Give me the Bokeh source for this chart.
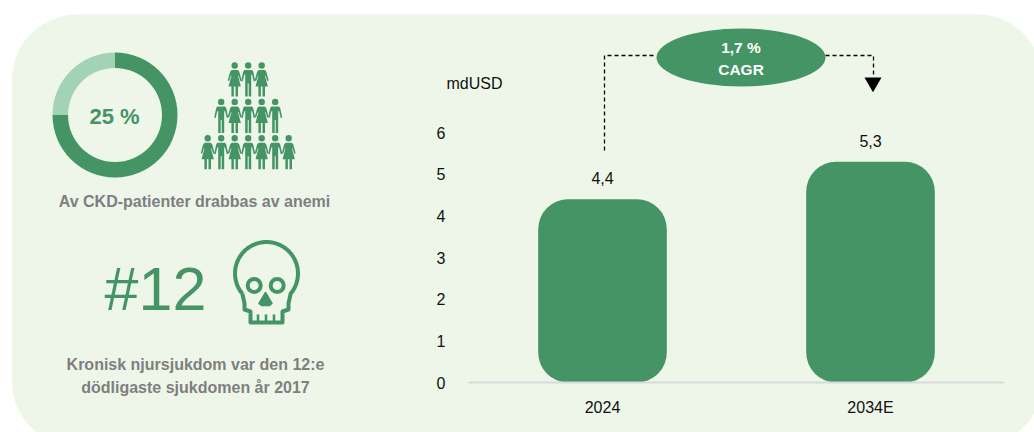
import numpy as np
from bokeh.plotting import figure
from bokeh.models import FixedTicker, Range1d
from bokeh.core.properties import value
from bokeh.embed import file_html
from bokeh.resources import INLINE

# ---- data
years = ["2024", "2034E"]
market = [4.4, 5.3]
y_ticks = [0, 1, 2, 3, 4, 5, 6]
unit_label = "mdUSD"
cagr_lines = ["1,7 %", "CAGR"]
donut_shares = [25, 75]
donut_label = "25 %"
rank_label = "#12"
caption_top = ["Av CKD-patienter drabbas av anemi"]
caption_bottom = ["Kronisk njursjukdom var den 12:e", "dödligaste sjukdomen år 2017"]
people_rows = ["WMW", "MWMWM", "WMWMWMW"]

GREEN = "#459466"
LIGHT = "#A3D3B5"
PANEL = "#EEF6EA"
GREY = "#7F7F7F"
INK = "#111111"
SANS = "Liberation Sans"
W, H = 1034, 432

# Main ranges hold the chart's values: one category per unit on x, market value on y.
X0, PX_PER_CAT = 468, 268
Y0, PX_PER_UNIT = 382, 250 / 6
p = figure(width=W, height=H,
           x_range=Range1d((0 - X0) / PX_PER_CAT, (W - X0) / PX_PER_CAT),
           y_range=Range1d((Y0 - H) / PX_PER_UNIT, Y0 / PX_PER_UNIT),
           toolbar_location=None, output_backend="svg", min_border=0)
# Second pair of ranges for the decoration around the chart.
p.extra_x_ranges["px"] = Range1d(0, W)
p.extra_y_ranges["px"] = Range1d(H, 0)
PX = dict(x_range_name="px", y_range_name="px")

p.grid.visible = False
p.outline_line_color = None
p.background_fill_color = "white"
p.border_fill_color = "white"

# panel
p.quad(left=11.5, right=1042, top=14, bottom=446, fill_color=PANEL, line_color=None,
       border_radius=(65, 65, 65, 65), level="underlay", **PX)

# axes inside the frame
centres = [i + 0.5 for i in range(len(years))]
p.xaxis.fixed_location = 0
p.xaxis.bounds = (0, len(years))
p.xaxis.ticker = FixedTicker(ticks=centres)
p.xaxis.major_label_overrides = dict(zip(centres, years))
p.xaxis.axis_line_color = "#D9D9D9"
p.xaxis.axis_line_width = 2
p.xaxis.major_tick_line_color = None
p.xaxis.minor_tick_line_color = None
p.xaxis.major_label_standoff = 10
p.yaxis.fixed_location = 0
p.yaxis.bounds = (0, 6)
p.yaxis.ticker = FixedTicker(ticks=y_ticks)
p.yaxis.axis_line_color = None
p.yaxis.major_tick_line_color = None
p.yaxis.minor_tick_line_color = None
p.yaxis.major_label_standoff = 17
for ax in (p.xaxis, p.yaxis):
    ax.major_label_text_font = SANS
    ax.major_label_text_font_size = "16px"
    ax.major_label_text_color = INK

# bars
p.vbar(x=centres, top=market, width=0.48, fill_color=GREEN, line_color=None, border_radius=(30, 30, 30, 30))
p.text(x=centres, y=market, text=[f"{v:.1f}".replace(".", ",") for v in market], y_offset=-21,
       text_font=value(SANS), text_font_size="16px", text_color=INK, text_align="center", text_baseline="middle")


def label(x, y, txt, size, color, style="bold", align="center"):
    p.text(x=[x], y=[y], text=[txt], text_font=value(SANS), text_font_size=size, text_font_style=style,
           text_color=color, text_align=align, text_baseline="middle", **PX)


label(446, 83, unit_label, "16px", INK, style="normal", align="left")

# donut
a = np.pi / 2
for share, col in zip(donut_shares, [LIGHT, GREEN]):
    b = a + share / sum(donut_shares) * 2 * np.pi
    p.annular_wedge(x=114.5, y=114.5, inner_radius=47, outer_radius=62.5, inner_radius_units="screen",
                    outer_radius_units="screen", start_angle=a, end_angle=b, fill_color=col, line_color=None, **PX)
    a = b

label(114, 116, donut_label, "22px", GREEN)
label(194, 201, caption_top[0], "16px", GREY)
label(195, 364, caption_bottom[0], "16px", GREY)
label(195, 387, caption_bottom[1], "16px", GREY)
label(155, 288, rank_label, "61px", GREEN, style="normal")

# people
MAN = [(-3.8, 4.5), (3.8, 4.5), (5, 6), (7, 15.5), (5.5, 16), (4, 9.5), (3, 9), (3, 31), (0.5, 31), (0.5, 18),
       (-0.5, 18), (-0.5, 31), (-3, 31), (-3, 9), (-4, 9.5), (-5.5, 16), (-7, 15.5), (-5, 6)]
WOMAN = [(-3, 4.5), (3, 4.5), (4.5, 6), (7, 15), (5.5, 15.5), (4, 10.5), (3.2, 10), (6.2, 21), (3.3, 21), (3.3, 31),
         (0.8, 31), (0.8, 21), (-0.8, 21), (-0.8, 31), (-3.3, 31), (-3.3, 21), (-6.2, 21), (-3.2, 10), (-4, 10.5),
         (-5.5, 15.5), (-7, 15), (-4.5, 6)]
hx, hy, bx, by = [], [], [], []
for rown, pattern in enumerate(people_rows):
    y0 = 65 + 36.4 * rown
    x0 = 247.7 - 13.5 * (len(pattern) - 1) / 2
    for i, kind in enumerate(pattern):
        cx = x0 + 13.5 * i
        hx.append(cx)
        hy.append(y0)
        shape = MAN if kind == "M" else WOMAN
        bx.append([cx + q[0] for q in shape])
        by.append([y0 + q[1] for q in shape])
p.scatter(x=hx, y=hy, size=6.4, marker="circle", fill_color=GREEN, line_color=None, **PX)
p.patches(xs=bx, ys=by, fill_color=GREEN, line_color=None, **PX)

# skull
th = np.radians(np.linspace(-220, 40, 60))
sx = list(266 + 31.5 * np.cos(th))
sy = list(273 + 31.5 * np.sin(th))
jaw_x = [288, 288, 282, 282, 250, 250, 244, 244]
jaw_y = [303, 309, 311, 322, 322, 311, 309, 303]
p.line(sx + jaw_x + [sx[0]], sy + jaw_y + [sy[0]], line_color=GREEN, line_width=4, line_join="round", **PX)
p.scatter(x=[253.7, 276.7], y=[285, 285], size=13, marker="circle", fill_color=None, line_color=GREEN, line_width=4, **PX)
p.patch([265, 271.5, 269, 261, 258.5], [292, 303, 305, 305, 303], fill_color=GREEN, line_color=GREEN,
        line_width=1.5, line_join="round", **PX)
p.multi_line(xs=[[257.5, 257.5], [265.5, 265.5], [273.5, 273.5]], ys=[[322, 314], [322, 314], [322, 314]],
             line_color=GREEN, line_width=2.6, **PX)

# CAGR bracket
p.line([604, 604, 656], [150, 55, 55], line_color="black", line_width=1.3, line_dash="4 3", **PX)
p.line([825, 873, 873], [55, 55, 76], line_color="black", line_width=1.3, line_dash="4 3", **PX)
p.scatter(x=[872.5], y=[82], marker="inverted_triangle", size=17, fill_color="black", line_color=None, **PX)
p.ellipse(x=[740.5], y=[57], width=169, height=58, width_units="screen", height_units="screen",
          fill_color=GREEN, line_color=None, **PX)
label(740.5, 47, cagr_lines[0], "15.5px", "white")
label(740.5, 69, cagr_lines[1], "15.5px", "white")

open("out.html", "w").write(file_html(p, INLINE))
